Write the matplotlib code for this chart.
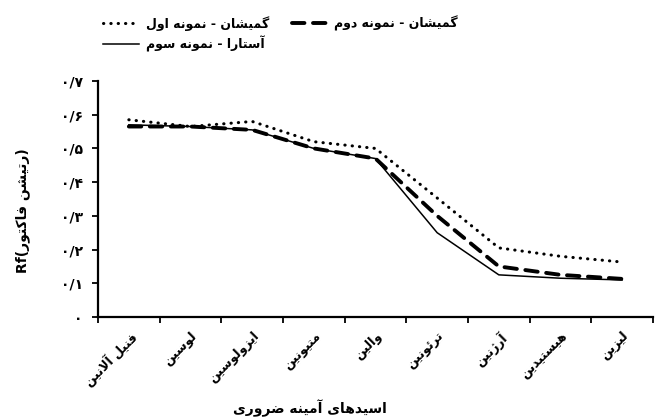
import numpy as np
import matplotlib
matplotlib.use("Agg")
import matplotlib.pyplot as plt

# ---------------- Persian shaping helper (matplotlib has no shaping) -------------
FORMS = {
    # char: (isolated, final, initial, medial)  None -> right-joining only
    '\u0627': ('\uFE8D', '\uFE8E', None, None),
    '\u0622': ('\uFE81', '\uFE82', None, None),
    '\u0628': ('\uFE8F', '\uFE90', '\uFE91', '\uFE92'),
    '\u062A': ('\uFE95', '\uFE96', '\uFE97', '\uFE98'),
    '\u0626': ('\uFE89', '\uFE8A', '\uFE8B', '\uFE8C'),
    '\u062F': ('\uFEA9', '\uFEAA', None, None),
    '\u0631': ('\uFEAD', '\uFEAE', None, None),
    '\u0632': ('\uFEAF', '\uFEB0', None, None),
    '\u0698': ('\uFB8A', '\uFB8B', None, None),
    '\u0633': ('\uFEB1', '\uFEB2', '\uFEB3', '\uFEB4'),
    '\u0634': ('\uFEB5', '\uFEB6', '\uFEB7', '\uFEB8'),
    '\u0636': ('\uFEBD', '\uFEBE', '\uFEBF', '\uFEC0'),
    '\u0641': ('\uFED1', '\uFED2', '\uFED3', '\uFED4'),
    '\u06A9': ('\uFB8E', '\uFB8F', '\uFB90', '\uFB91'),
    '\u06AF': ('\uFB92', '\uFB93', '\uFB94', '\uFB95'),
    '\u0644': ('\uFEDD', '\uFEDE', '\uFEDF', '\uFEE0'),
    '\u0645': ('\uFEE1', '\uFEE2', '\uFEE3', '\uFEE4'),
    '\u0646': ('\uFEE5', '\uFEE6', '\uFEE7', '\uFEE8'),
    '\u0647': ('\uFEE9', '\uFEEA', '\uFEEB', '\uFEEC'),
    '\u0648': ('\uFEED', '\uFEEE', None, None),
    '\u06CC': ('\uFBFC', '\uFBFD', '\uFBFE', '\uFBFF'),
}
LAMALEF = {'\u0627': ('\uFEFB', '\uFEFC'), '\u0622': ('\uFEF5', '\uFEF6')}


def dual(c):
    return c in FORMS and FORMS[c][2] is not None


def shape(s):
    """Return visual (left-to-right) string for an RTL Persian string."""
    out = []
    n = len(s)
    i = 0
    while i < n:
        c = s[i]
        if c not in FORMS:
            out.append(c)
            i += 1
            continue
        prev = s[i - 1] if i > 0 else None
        nxt = s[i + 1] if i + 1 < n else None
        jp = prev is not None and dual(prev)
        if c == '\u0644' and nxt in LAMALEF:
            out.append(LAMALEF[nxt][1 if jp else 0])
            i += 2
            continue
        jn = dual(c) and nxt in FORMS
        f = FORMS[c]
        if jp and jn:
            g = f[3]
        elif jp:
            g = f[1]
        elif jn:
            g = f[2]
        else:
            g = f[0]
        out.append(g)
        i += 1
    return ''.join(out[::-1])


def fa_num(v):
    d = '۰۱۲۳۴۵۶۷۸۹'
    if v == 0:
        return d[0]
    return d[0] + '/' + d[int(round(v * 10))]

# ---------------- data -------------
categories = ["فنیل آلانین", "لوسین", "ایزولوسین", "متیونین", "والین",
              "ترئونین", "آرژنین", "هیستیدین", "لیزین"]
series_names = ["گمیشان - نمونه اول", "گمیشان - نمونه دوم", "آستارا - نمونه سوم"]
s1 = [0.585, 0.565, 0.58, 0.52, 0.50, 0.353, 0.205, 0.18, 0.163]
s2 = [0.565, 0.565, 0.555, 0.50, 0.47, 0.30, 0.15, 0.125, 0.113]
s3 = [0.57, 0.565, 0.555, 0.50, 0.47, 0.25, 0.125, 0.115, 0.11]
yticks = [0, 0.1, 0.2, 0.3, 0.4, 0.5, 0.6, 0.7]
xlabel = "اسیدهای آمینه ضروری"
ylabel_fa = "رتیشن فاکتور"

# ---------------- figure -------------
plt.rcParams['font.family'] = ['DejaVu Sans']
fig = plt.figure(figsize=(6.55, 4.17), dpi=100)
ax = fig.add_axes([98 / 655, 1 - 317 / 417, (653 - 98) / 655, (317 - 81) / 417])

x = np.arange(len(categories))
l1, = ax.plot(x, s1, color='black', lw=2.2, linestyle=(0, (0.1, 2.3)),
              dash_capstyle='round', zorder=3)
l2, = ax.plot(x, s2, color='black', lw=2.8, linestyle=(0, (3.2, 2.2)),
              dash_capstyle='round', zorder=4)
l3, = ax.plot(x, s3, color='black', lw=1.1, zorder=5)

ax.set_xlim(-0.5, len(categories) - 0.5)
ax.set_ylim(0, 0.7)
for sp in ['top', 'right']:
    ax.spines[sp].set_visible(False)
for sp in ['left', 'bottom']:
    ax.spines[sp].set_linewidth(1.6)

ax.set_yticks(yticks)
ax.set_yticklabels([fa_num(v) for v in yticks], fontsize=10, fontweight='bold')
ax.tick_params(axis='y', direction='out', length=4, width=1.3, pad=7)

ax.set_xticks(np.arange(-0.5, len(categories)), labels=[''] * (len(categories) + 1))
ax.tick_params(axis='x', which='major', direction='out', length=4, width=1.3)
ax.set_xticks(x, labels=[shape(c) for c in categories], minor=True)
ax.tick_params(axis='x', which='minor', length=0, pad=9)
for t in ax.get_xticklabels(minor=True):
    t.set_rotation(45)
    t.set_ha('right')
    t.set_va('top')
    t.set_rotation_mode('anchor')
    t.set_fontsize(9)
    t.set_fontweight('bold')

fig.text(310 / 655, 1 - 408 / 417, shape(xlabel), ha='center', va='center',
         fontsize=10, fontweight='bold')
fig.text(23 / 655, 1 - 211 / 417, "Rf(" + shape(ylabel_fa) + ")", rotation=90,
         ha='center', va='center', fontsize=10, fontweight='bold')

leg_kw = dict(loc='upper left', frameon=False, handlelength=2.9, handletextpad=0.5,
              labelspacing=0.35, prop={'size': 9, 'weight': 'bold'},
              borderaxespad=0, borderpad=0)
leg1 = fig.legend([l1, l3], [shape(series_names[0]), shape(series_names[2])],
                  bbox_to_anchor=(103 / 655, 1 - 16 / 417), **leg_kw)
leg2 = fig.legend([l2], [shape(series_names[1])],
                  bbox_to_anchor=(292 / 655, 1 - 16 / 417), **leg_kw)

fig.savefig('out.png', dpi=100)
